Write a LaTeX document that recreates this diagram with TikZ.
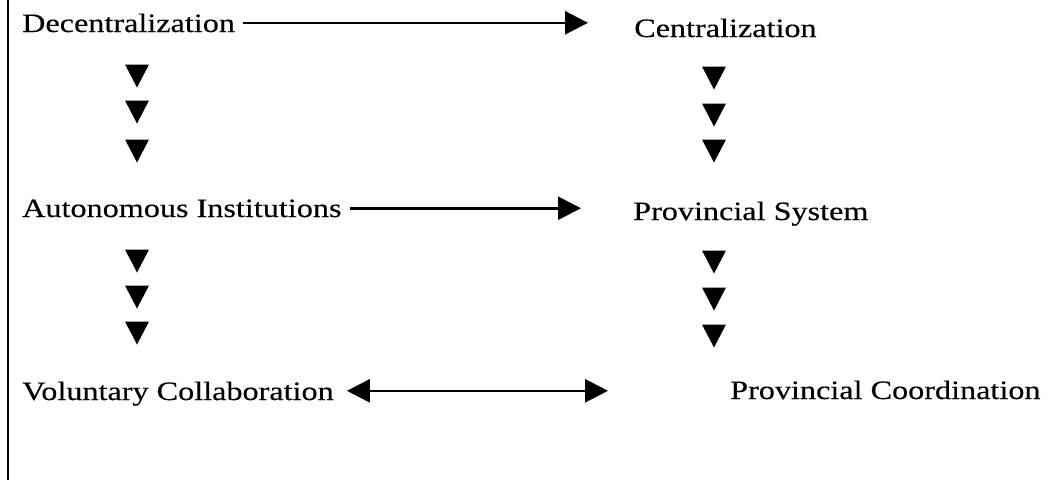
\documentclass[tikz,border=0pt]{standalone}
\usepackage{fontspec}
\setmainfont{Liberation Serif}[FakeStretch=1.215,FakeBold=0.35]
\usetikzlibrary{arrows.meta}
\begin{document}
\begin{tikzpicture}[x=1pt,y=-1pt,
  lbl/.style={anchor=base west,inner sep=0pt,text depth=0pt,font=\fontsize{26.5}{30}\selectfont},
  arr/.style={line width=2.6pt,-{Triangle[length=23pt,width=23pt]}},
  darr/.style={line width=2.6pt,{Triangle[length=23pt,width=23pt]}-{Triangle[length=23pt,width=23pt]}},
  dtri/.pic={\fill (-12,-11.5) -- (12,-11.5) -- (0,11.5) -- cycle;}]
\useasboundingbox (0,0) rectangle (1048,480);
\draw[line width=2pt] (8,0) -- (8,480);
% texts
\node[lbl] (dec) at (22,32) {Decentralization};
\node[lbl] (cen) at (634,37) {Centralization};
\node[lbl] (aut) at (22,217) {Autonomous Institutions};
\node[lbl] (psys) at (633,220) {Provincial System};
\node[lbl] (vol) at (22,400) {Voluntary Collaboration};
\node[lbl] (pco) at (730,399) {Provincial Coordination};
% horizontal arrows
\draw[arr] ([xshift=8pt]dec.east) -- ([xshift=-46pt]dec.east -| cen.west);
\draw[arr] ([xshift=8pt]aut.east) -- ([xshift=-52pt]aut.east -| psys.west);
\draw[darr] ([xshift=13pt]vol.east) -- ([xshift=-122pt]vol.east -| pco.west);
% downward triangles
\foreach \y in {76,112,151,261,297,333} {\pic at (137,\y) {dtri};}
\foreach \y in {78,115,151,262,299,336} {\pic at (714,\y) {dtri};}
\end{tikzpicture}
\end{document}
